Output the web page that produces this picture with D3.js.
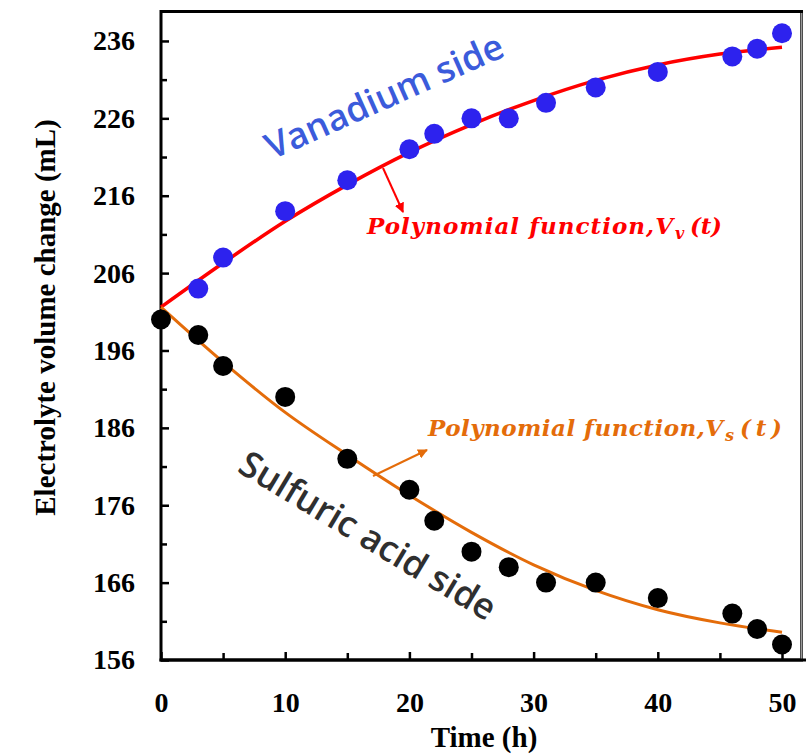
<!DOCTYPE html>
<html>
<head>
<meta charset="utf-8">
<script src="https://cdn.jsdelivr.net/npm/d3@7"></script>
<style>
  html, body { margin: 0; padding: 0; background: #fff; }
  svg { display: block; }
</style>
</head>
<body>
<svg id="chart" width="806" height="756"></svg>
<script>
// ---- data ----
const times = [3, 5, 10, 15, 20, 22, 25, 28, 31, 35, 40, 46, 48, 50];
const vanadiumValues = [204, 208, 214, 218, 222, 224, 226, 226, 228, 230, 232, 234, 235, 237];
const sulfuricTimes = [0, 3, 5, 10, 15, 20, 22, 25, 28, 31, 35, 40, 46, 48, 50];
const sulfuricValues = [200, 198, 194, 190, 182, 178, 174, 170, 168, 166, 166, 164, 162, 160, 158];
const fitTimes = [0, 5, 10, 15, 20, 25, 30, 35, 40, 45, 50];
const vanadiumFit = [201.6, 207.3, 212.7, 217.4, 221.6, 225.2, 228.3, 230.9, 232.9, 234.3, 235.2];
const sulfuricFit = [201.6, 194.5, 188.0, 182.5, 177.3, 172.5, 168.3, 165.0, 162.5, 160.8, 159.6];
const xTicks = [0, 10, 20, 30, 40, 50];
const xMinorTicks = [5, 15, 25, 35, 45];
const yTicks = [156, 166, 176, 186, 196, 206, 216, 226, 236];
const yMinorTicks = [161, 171, 181, 191, 201, 211, 221, 231];

const svg = d3.select("#chart");
const pLeft = 161, pRight = 782, pTop = 10, pBottom = 660;
const x = d3.scaleLinear().domain([0, 50]).range([pLeft, pRight]);
const y = d3.scaleLinear().domain([156, 240]).range([pBottom, pTop]);

const serif = "'Liberation Serif','Times New Roman',serif";

// plot frame
svg.append("rect").attr("x", pLeft).attr("y", pTop + 1.5).attr("width", 801.5 - pLeft)
  .attr("height", pBottom - pTop - 1.5).attr("fill", "none")
  .attr("stroke", "#000").attr("stroke-width", 3);
svg.append("path").attr("d", `M801.5,${pTop + 3} V${pBottom}`)
  .attr("fill", "none").attr("stroke", "#999").attr("stroke-width", 2);

// y axis
const yAxis = svg.append("g").attr("transform", `translate(${pLeft},0)`)
  .call(d3.axisLeft(y).tickValues(yTicks).tickSize(-8).tickPadding(26).tickFormat(d3.format("d")));
const yMinor = svg.append("g").attr("transform", `translate(${pLeft},0)`)
  .call(d3.axisLeft(y).tickValues(yMinorTicks).tickSize(-6).tickFormat(""));
// x axis
const xAxis = svg.append("g").attr("transform", `translate(0,${pBottom})`)
  .call(d3.axisBottom(x).tickValues(xTicks).tickSize(-8).tickPadding(32).tickFormat(d3.format("d")));
const xMinor = svg.append("g").attr("transform", `translate(0,${pBottom})`)
  .call(d3.axisBottom(x).tickValues(xMinorTicks).tickSize(-7).tickFormat(""));

[yAxis, yMinor, xAxis, xMinor].forEach(g => {
  g.select(".domain").remove();
  g.selectAll(".tick line").attr("stroke", "#000").attr("stroke-width", 2.5);
  g.selectAll(".tick text").attr("fill", "#000").style("font-family", serif)
    .style("font-weight", "bold").style("font-size", "28px");
});

// axis titles
svg.append("text").attr("transform", `translate(55,${(113 + 522) / 2}) rotate(-90)`)
  .attr("text-anchor", "middle").style("font-family", serif).style("font-weight", "bold")
  .style("font-size", "29px").attr("fill", "#000").text("Electrolyte volume change (mL)");
svg.append("text").attr("x", 484).attr("y", 747).attr("text-anchor", "middle")
  .style("font-family", serif).style("font-weight", "bold").style("font-size", "29px")
  .attr("fill", "#000").text("Time (h)");

// fit curves
const line = d3.line().x((d, i) => x(fitTimes[i])).y(d => y(d)).curve(d3.curveCatmullRom);
svg.append("path").datum(vanadiumFit).attr("d", line).attr("fill", "none")
  .attr("stroke", "#FF0000").attr("stroke-width", 3.5);
svg.append("path").datum(sulfuricFit).attr("d", line).attr("fill", "none")
  .attr("stroke", "#E46C0A").attr("stroke-width", 3);

// arrows
const defs = svg.append("defs");
function marker(id, color) {
  defs.append("marker").attr("id", id).attr("viewBox", "0 0 10 10").attr("refX", 9).attr("refY", 5)
    .attr("markerWidth", 5).attr("markerHeight", 5).attr("orient", "auto")
    .attr("markerUnits", "strokeWidth")
    .append("path").attr("d", "M0,0 L10,5 L0,10 Z").attr("fill", color);
}
marker("arrRed", "#FF0000");
marker("arrOrange", "#E46C0A");
svg.append("line").attr("x1", 383).attr("y1", 168).attr("x2", 403).attr("y2", 212)
  .attr("stroke", "#FF0000").attr("stroke-width", 2).attr("marker-end", "url(#arrRed)");
svg.append("line").attr("x1", 373).attr("y1", 476).attr("x2", 427).attr("y2", 450)
  .attr("stroke", "#E46C0A").attr("stroke-width", 2).attr("marker-end", "url(#arrOrange)");

// points
svg.append("g").selectAll("circle").data(vanadiumValues).join("circle")
  .attr("cx", (d, i) => x(times[i])).attr("cy", d => y(d)).attr("r", 10).attr("fill", "#2D22EE");
svg.append("g").selectAll("circle").data(sulfuricValues).join("circle")
  .attr("cx", (d, i) => x(sulfuricTimes[i])).attr("cy", d => y(d)).attr("r", 10).attr("fill", "#000");

// side labels
const sans = "'Open Sans','Noto Sans',sans-serif";
svg.append("text").attr("transform", "translate(272,160) rotate(-24)")
  .style("font-family", sans).style("font-weight", 600).style("font-size", "36px")
  .attr("fill", "#3B5BDB").text("Vanadium side");
svg.append("text").attr("transform", "translate(236,471) rotate(31)")
  .style("font-family", sans).style("font-weight", 600).style("font-size", "36px")
  .attr("fill", "#2F2F2F").text("Sulfuric acid side");

// polynomial labels
const mathFont = "'DejaVu Serif','Liberation Serif',serif";
function polyLabel(x0, x1, base, sub, subX, parenX0, parenX1, color) {
  const g = svg.append("g").attr("fill", color).style("font-family", mathFont)
    .style("font-weight", "bold").style("font-style", "italic");
  g.append("text").attr("x", x0).attr("y", base).style("font-size", "23px")
    .attr("textLength", x1 - x0).attr("lengthAdjust", "spacing").text("Polynomial function,V");
  g.append("text").attr("x", subX).attr("y", base + 5).style("font-size", "16px").text(sub);
  g.append("text").attr("x", parenX0).attr("y", base).style("font-size", "23px")
    .attr("textLength", parenX1 - parenX0).attr("lengthAdjust", "spacing").text("(t)");
}
polyLabel(367, 673, 234, "v", 675, 690, 722, "#FF0000");
polyLabel(428, 723, 436, "s", 725, 740, 782, "#E46C0A");

// bottom axis line extends to the right edge
svg.append("path").attr("d", `M${pLeft - 1.5},${pBottom} H806`)
  .attr("fill", "none").attr("stroke", "#000").attr("stroke-width", 3);
</script>
</body>
</html>
